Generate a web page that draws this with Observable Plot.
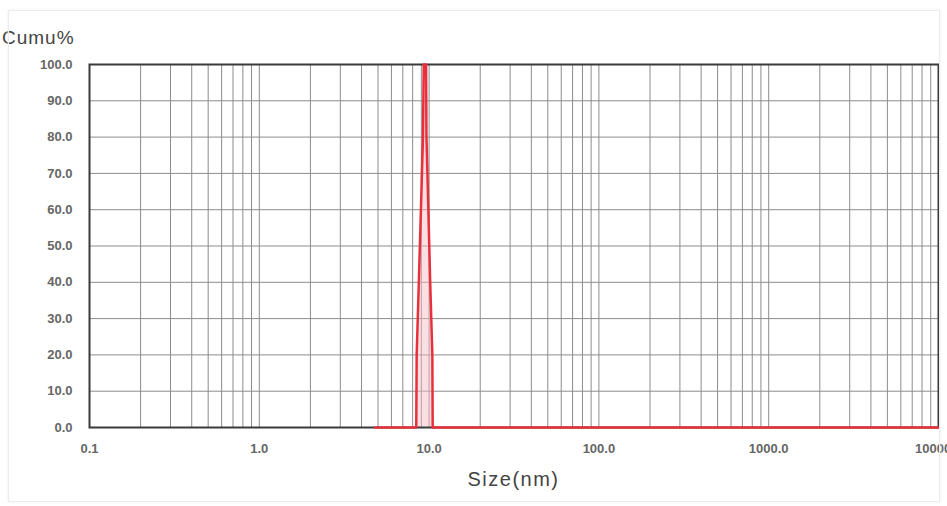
<!DOCTYPE html>
<html>
<head>
<meta charset="utf-8">
<script src="https://cdn.jsdelivr.net/npm/d3@7"></script>
<script src="https://cdn.jsdelivr.net/npm/@observablehq/plot@0.6"></script>
<style>
  html, body { margin: 0; padding: 0; background: #fff; width: 947px; height: 506px; overflow: hidden; }
  #wrap { position: relative; width: 947px; height: 506px; overflow: hidden; font-family: "Liberation Sans", Arial, sans-serif; }
  #border { position: absolute; left: 8px; top: 10px; width: 930px; height: 490px; border: 1px solid #ececec; box-shadow: 0 0 3px #eee; pointer-events: none; }
  #title { height: 52px; box-sizing: border-box; padding-top: 27px; margin-left: 2px; font-size: 19px; letter-spacing: 1px; color: #444; line-height: 22px; }
  #chart svg { display: block; overflow: hidden; }
  #caption { box-sizing: border-box; padding-left: 89px; padding-right: 9px; text-align: center; font-size: 20px; letter-spacing: 1.5px; color: #444; line-height: 30px; margin-top: 2px; }
</style>
</head>
<body>
<div id="wrap">
  <div id="border"></div>
  <div id="title">Cumu%</div>
  <div id="chart"></div>
  <div id="caption">Size(nm)</div>
</div>
<script>
// ---- data ----
const xTicks = [0.1, 1, 10, 100, 1000, 10000];
const yTicks = [0, 10, 20, 30, 40, 50, 60, 70, 80, 90, 100];
const cumuLevels = [0, 20, 40, 60, 80, 100];            // Cumu% levels
const undersizeSize = [8.4, 8.45, 8.7, 8.95, 9.2, 9.3]; // rising edge (nm)
const oversizeSize = [10.5, 10.45, 10.15, 9.9, 9.65, 9.6]; // falling edge (nm)
const baselineStart = 4.8;   // red baseline begins
const baselineEnd = 10000;   // red baseline ends

// ---- derived tables ----
const gridX = [];
for (let e = -1; e < 4; e++) for (let m = 1; m <= 9; m++) gridX.push(m * Math.pow(10, e));
gridX.push(10000);
const band = cumuLevels.map((c, i) => ({y: c, x1: undersizeSize[i], x2: oversizeSize[i]}));
const path = [{x: baselineStart, y: 0}];
cumuLevels.forEach((c, i) => path.push({x: undersizeSize[i], y: c}));
for (let i = cumuLevels.length - 1; i >= 0; i--) path.push({x: oversizeSize[i], y: cumuLevels[i]});
path.push({x: baselineEnd, y: 0});

const chart = Plot.plot({
  width: 947,
  height: 410,
  marginLeft: 89,
  marginRight: 9,
  marginTop: 12,
  marginBottom: 35,
  style: {fontFamily: "Liberation Sans, Arial, sans-serif", fontSize: "13px", color: "#555", overflow: "hidden"},
  x: {type: "log", domain: [0.1, 10000]},
  y: {domain: [0, 100]},
  marks: [
    Plot.ruleX(gridX, {stroke: "#8c8c8c", strokeWidth: 1}),
    Plot.ruleY(yTicks.filter(d => d > 0 && d < 100), {stroke: "#8c8c8c", strokeWidth: 1}),
    Plot.areaX(band, {y: "y", x1: "x1", x2: "x2", fill: "#f7b8be", fillOpacity: 0.45, curve: "linear"}),
    Plot.frame({stroke: "#3a3a3a", strokeWidth: 2}),
    Plot.line(path, {x: "x", y: "y", stroke: "#e8303c", strokeWidth: 2.5, curve: "linear"}),
    Plot.axisX({ticks: xTicks, tickFormat: d => d.toFixed(1), tickSize: 0, tickPadding: 16, label: null, fontWeight: "bold", fill: "#666", style: {letterSpacing: "1px"}}),
    Plot.axisY({ticks: yTicks, tickFormat: d => d.toFixed(1), tickSize: 0, tickPadding: 17, label: null, fontWeight: "bold", fill: "#666", style: {letterSpacing: "1px"}})
  ]
});
document.getElementById("chart").appendChild(chart);
</script>
</body>
</html>
